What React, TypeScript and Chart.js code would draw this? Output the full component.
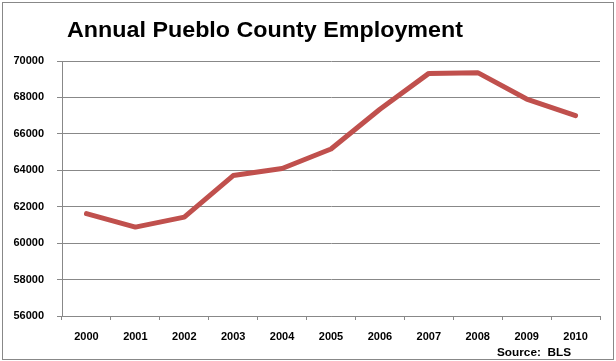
import React, { useEffect, useRef } from "react";
import { Chart, registerables } from "chart.js";

Chart.register(...registerables);

const years = ["2000", "2001", "2002", "2003", "2004", "2005", "2006", "2007", "2008", "2009", "2010"];
const employment = [61620, 60880, 61430, 63710, 64100, 65170, 67350, 69320, 69360, 67910, 67000];
const titleText = "Annual Pueblo County Employment";
const sourceText = "Source:  BLS";
const yMin = 56000;
const yMax = 70000;
const yStep = 2000;

const decorPlugin = {
  id: "decor",
  afterDraw(chart: any) {
    const ctx = chart.ctx;
    ctx.save();
    ctx.strokeStyle = "#888888";
    ctx.lineWidth = 1;
    ctx.strokeRect(2.5, 2.5, 611, 357);
    ctx.fillStyle = "#000000";
    ctx.textBaseline = "alphabetic";
    ctx.textAlign = "left";
    ctx.font = "bold 22px 'Liberation Sans'";
    const w = ctx.measureText(titleText).width;
    ctx.save();
    ctx.translate(67, 37);
    ctx.scale(396 / w, 1);
    ctx.fillText(titleText, 0, 0);
    ctx.restore();
    ctx.font = "bold 11px 'Liberation Sans'";
    const sw = ctx.measureText(sourceText).width;
    ctx.save();
    ctx.translate(497, 356);
    ctx.scale(74 / sw, 1);
    ctx.fillText(sourceText, 0, 0);
    ctx.restore();
    ctx.restore();
  },
};

export default function App() {
  const ref = useRef<HTMLCanvasElement>(null);
  useEffect(() => {
    if (!ref.current) return;
    const tickFont = { family: "'Liberation Sans'", size: 11, weight: "bold" as const };
    const chart = new Chart(ref.current, {
      type: "line",
      data: {
        labels: years,
        datasets: [
          {
            data: employment,
            borderColor: "#c0504d",
            backgroundColor: "#c0504d",
            borderWidth: 5,
            pointRadius: 0,
            tension: 0,
            borderCapStyle: "round",
            borderJoinStyle: "round",
          },
        ],
      },
      options: {
        responsive: false,
        animation: false,
        devicePixelRatio: 1,
        layout: { padding: { left: 0, right: 16, top: 61, bottom: 0 } },
        plugins: { legend: { display: false }, title: { display: false }, tooltip: { enabled: false } },
        scales: {
          x: {
            offset: true,
            afterFit: (s: any) => { s.height = 45; },
            grid: { offset: true, drawOnChartArea: false, tickLength: 4, color: "#888888" },
            border: { color: "#888888" },
            ticks: { color: "#000000", font: tickFont, padding: 10, maxRotation: 0 },
          },
          y: {
            min: yMin,
            max: yMax,
            afterFit: (s: any) => { s.width = 62; },
            grid: { color: "#888888", tickLength: 5 },
            border: { color: "#888888" },
            ticks: {
              stepSize: yStep,
              color: "#000000",
              font: tickFont,
              padding: 13,
              callback: (v: any) => String(v),
            },
          },
        },
      },
      plugins: [decorPlugin],
    });
    return () => chart.destroy();
  }, []);
  return (
    <div style={{ position: "absolute", left: 0, top: 0, width: 616, height: 361, background: "#ffffff" }}>
      <canvas ref={ref} width={616} height={361} style={{ display: "block" }} />
    </div>
  );
}
